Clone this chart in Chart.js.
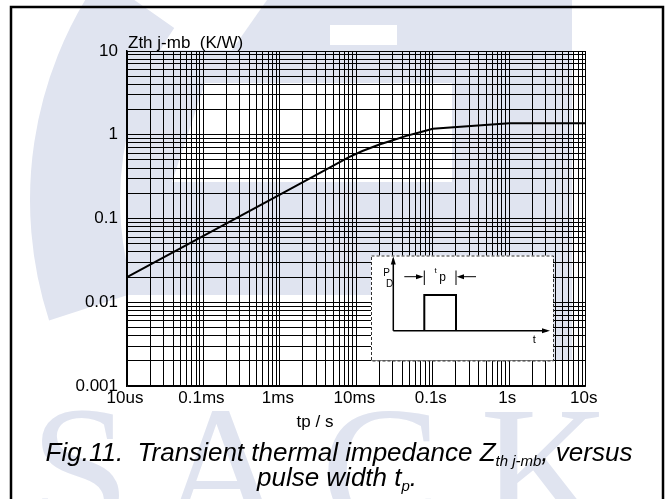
<!DOCTYPE html>
<html>
<head>
<meta charset="utf-8">
<script src="https://cdn.jsdelivr.net/npm/chart.js@4.4.1/dist/chart.umd.min.js"></script>
<style>
html,body{margin:0;padding:0;background:#fff;overflow:hidden}
#wrap{position:relative;width:665px;height:499px}
canvas{display:block}
</style>
</head>
<body>
<div id="wrap"><canvas id="c" width="665" height="499"></canvas></div>
<script>
// ---- data ----
const pulseWidth = [1e-5, 1e-4, 1e-3, 0.008, 0.012, 0.02, 0.03, 0.045, 0.07, 0.1, 1, 10];
const zthJmb     = [0.02, 0.062, 0.193, 0.54, 0.64, 0.765, 0.86, 0.97, 1.08, 1.18, 1.37, 1.37];
const xTickValues = [1e-5, 1e-4, 1e-3, 1e-2, 0.1, 1, 10];
const xTickLabels = ['10us', '0.1ms', '1ms', '10ms', '0.1s', '1s', '10s'];
const yTickValues = [0.001, 0.01, 0.1, 1, 10];
const yTickLabels = ['0.001', '0.01', '0.1', '1', '10'];
const minorSteps = [1, 2, 3, 4, 5, 6, 7, 8, 9];
const yAxisTitle = 'Zth j-mb  (K/W)';
const xAxisTitle = 'tp / s';

function gridValues(decades) {
  const out = [];
  for (let i = 0; i < decades.length - 1; i++) {
    minorSteps.forEach(m => out.push(m * decades[i]));
  }
  out.push(decades[decades.length - 1]);
  return out;
}
function labelFor(values, labels, v) {
  const i = values.findIndex(d => Math.abs(d - v) / d < 1e-6);
  return i >= 0 ? labels[i] : '';
}
const xGrid = gridValues(xTickValues);
const yGrid = gridValues(yTickValues);

const FONT = '"Liberation Sans", Arial, sans-serif';
const WM = '#e0e4f0';

const decor = {
  id: 'decor',
  beforeDraw(chart) {
    const ctx = chart.ctx;
    ctx.save();
    ctx.fillStyle = '#fff';
    ctx.fillRect(0, 0, chart.width, chart.height);
    // watermark (light logo behind the chart)
    ctx.fillStyle = WM;
    const d = Math.PI / 180;
    ctx.beginPath();
    ctx.arc(420, 200, 390, 162 * d, 215 * d);
    ctx.arc(420, 200, 300, 215 * d, 162 * d, true);
    ctx.closePath();
    ctx.fill();
    ctx.fillRect(127, 50, 445, 245);
    ctx.beginPath();
    ctx.moveTo(267, 0); ctx.lineTo(572, 0); ctx.lineTo(572, 50); ctx.lineTo(232, 50);
    ctx.closePath(); ctx.fill();
    ctx.fillRect(456, 0, 116, 360);
    ctx.fillStyle = '#fff';
    ctx.beginPath();
    ctx.moveTo(205, 83); ctx.lineTo(452, 83); ctx.lineTo(452, 182); ctx.lineTo(172, 182);
    ctx.closePath(); ctx.fill();
    ctx.fillRect(330, 25, 67, 20);
    ctx.fillStyle = WM;
    ctx.font = '180px "Liberation Serif", serif';
    ctx.textAlign = 'center';
    ctx.textBaseline = 'alphabetic';
    [['S', 80], ['A', 222], ['C', 381], ['K', 545]].forEach(([ch, x]) => ctx.fillText(ch, x, 530));
    ctx.restore();
  },
  afterDraw(chart) {
    const ctx = chart.ctx;
    const ca = chart.chartArea;
    ctx.save();
    // ---- inset pulse diagram ----
    const bx = ca.left + 244, by = ca.top + 204.5, bw = 182, bh = 105;
    ctx.fillStyle = '#fff';
    ctx.fillRect(bx, by, bw, bh);
    ctx.setLineDash([3, 2]);
    ctx.strokeStyle = '#333';
    ctx.lineWidth = 1;
    ctx.strokeRect(bx + 0.5, by + 0.5, bw, bh);
    ctx.setLineDash([]);
    ctx.strokeStyle = '#000';
    ctx.fillStyle = '#000';
    const ox = bx + 22.3, oy = by + 75.2;
    ctx.lineWidth = 1.5;
    ctx.beginPath();
    ctx.moveTo(ox, oy); ctx.lineTo(ox, by + 3);
    ctx.moveTo(ox, oy); ctx.lineTo(bx + 176, oy);
    ctx.stroke();
    // arrow heads
    ctx.beginPath();
    ctx.moveTo(ox, by + 1); ctx.lineTo(ox - 2.5, by + 9); ctx.lineTo(ox + 2.5, by + 9); ctx.closePath(); ctx.fill();
    ctx.beginPath();
    ctx.moveTo(bx + 179, oy); ctx.lineTo(bx + 171, oy - 2.5); ctx.lineTo(bx + 171, oy + 2.5); ctx.closePath(); ctx.fill();
    // pulse
    ctx.lineWidth = 2;
    ctx.beginPath();
    ctx.moveTo(bx + 53.3, oy); ctx.lineTo(bx + 53.3, by + 39.5); ctx.lineTo(bx + 85, by + 39.5); ctx.lineTo(bx + 85, oy);
    ctx.stroke();
    // dimension marks
    ctx.lineWidth = 1;
    const ay = by + 21.2;
    ctx.beginPath();
    ctx.moveTo(bx + 53.3, by + 15); ctx.lineTo(bx + 53.3, by + 29.5);
    ctx.moveTo(bx + 85, by + 15); ctx.lineTo(bx + 85, by + 29.5);
    ctx.moveTo(bx + 33.3, ay); ctx.lineTo(bx + 47, ay);
    ctx.moveTo(bx + 105, ay); ctx.lineTo(bx + 91, ay);
    ctx.stroke();
    ctx.beginPath();
    ctx.moveTo(bx + 52.5, ay); ctx.lineTo(bx + 45, ay - 2.5); ctx.lineTo(bx + 45, ay + 2.5); ctx.closePath(); ctx.fill();
    ctx.beginPath();
    ctx.moveTo(bx + 85.8, ay); ctx.lineTo(bx + 93, ay - 2.5); ctx.lineTo(bx + 93, ay + 2.5); ctx.closePath(); ctx.fill();
    ctx.textAlign = 'center';
    ctx.textBaseline = 'middle';
    ctx.font = '10px ' + FONT;
    ctx.fillText('P', bx + 15.7, by + 18);
    ctx.fillText('D', bx + 18.5, by + 28.5);
    ctx.font = '8px ' + FONT;
    ctx.fillText('t', bx + 64.5, by + 15.5);
    ctx.font = '12px ' + FONT;
    ctx.fillText('p', bx + 71.5, by + 22.5);
    ctx.font = '11px ' + FONT;
    ctx.fillText('t', bx + 163.3, by + 84.8);

    // ---- axis titles ----
    ctx.fillStyle = '#000';
    ctx.font = '17px ' + FONT;
    ctx.textBaseline = 'alphabetic';
    ctx.textAlign = 'left';
    ctx.fillText(yAxisTitle, ca.left + 1, ca.top - 3);
    ctx.textAlign = 'center';
    ctx.fillText(xAxisTitle, 315, 427);

    // ---- caption with subscripts ----
    function richLine(parts, cx, base) {
      const fonts = { m: 'italic 26px ' + FONT, s: 'italic 15px ' + FONT };
      let total = 0;
      parts.forEach(p => { ctx.font = fonts[p[1]]; total += ctx.measureText(p[0]).width; });
      let x = cx - total / 2;
      ctx.textAlign = 'left';
      parts.forEach(p => {
        ctx.font = fonts[p[1]];
        ctx.fillText(p[0], x, base + (p[1] === 's' ? 5 : 0));
        x += ctx.measureText(p[0]).width;
      });
    }
    richLine([['Fig.11.  Transient thermal impedance Z', 'm'], ['th j-mb', 's'], [', versus', 'm']], 339, 461);
    richLine([['pulse width t', 'm'], ['p', 's'], ['.', 'm']], 337, 486);

    // ---- outer frame ----
    ctx.strokeStyle = '#000';
    ctx.lineWidth = 2.5;
    ctx.strokeRect(11, 7, 652, 500);
    ctx.restore();
  }
};

new Chart(document.getElementById('c'), {
  type: 'line',
  data: {
    datasets: [{
      label: 'Zth j-mb',
      data: pulseWidth.map((x, i) => ({ x, y: zthJmb[i] })),
      borderColor: '#000',
      borderWidth: 2,
      pointRadius: 0,
      tension: 0,
      fill: false
    }]
  },
  options: {
    responsive: false,
    animation: false,
    layout: { padding: { left: 0, right: 79.3, top: 51, bottom: 83 } },
    plugins: { legend: { display: false }, tooltip: { enabled: false } },
    scales: {
      x: {
        type: 'logarithmic',
        min: xTickValues[0],
        max: xTickValues[xTickValues.length - 1],
        afterBuildTicks: s => { s.ticks = xGrid.map(v => ({ value: v })); },
        afterFit: s => { s.height = 30; s.paddingLeft = 0; s.paddingRight = 0; },
        grid: { color: '#000', lineWidth: 1, drawTicks: false },
        border: { display: true, color: '#000', width: 1.5 },
        ticks: {
          autoSkip: false, maxRotation: 0, minRotation: 0, padding: 2, labelOffset: -2,
          color: '#000', font: { family: FONT, size: 17 },
          callback: v => labelFor(xTickValues, xTickLabels, v)
        }
      },
      y: {
        type: 'logarithmic',
        min: yTickValues[0],
        max: yTickValues[yTickValues.length - 1],
        afterBuildTicks: s => { s.ticks = yGrid.map(v => ({ value: v })); },
        afterFit: s => { s.width = 127; s.paddingTop = 0; s.paddingBottom = 0; },
        grid: { color: '#000', lineWidth: 1, drawTicks: false },
        border: { display: true, color: '#000', width: 1.5 },
        ticks: {
          autoSkip: false, padding: 9,
          color: '#000', font: { family: FONT, size: 17 },
          callback: v => labelFor(yTickValues, yTickLabels, v)
        }
      }
    }
  },
  plugins: [decor]
});
</script>
</body>
</html>
